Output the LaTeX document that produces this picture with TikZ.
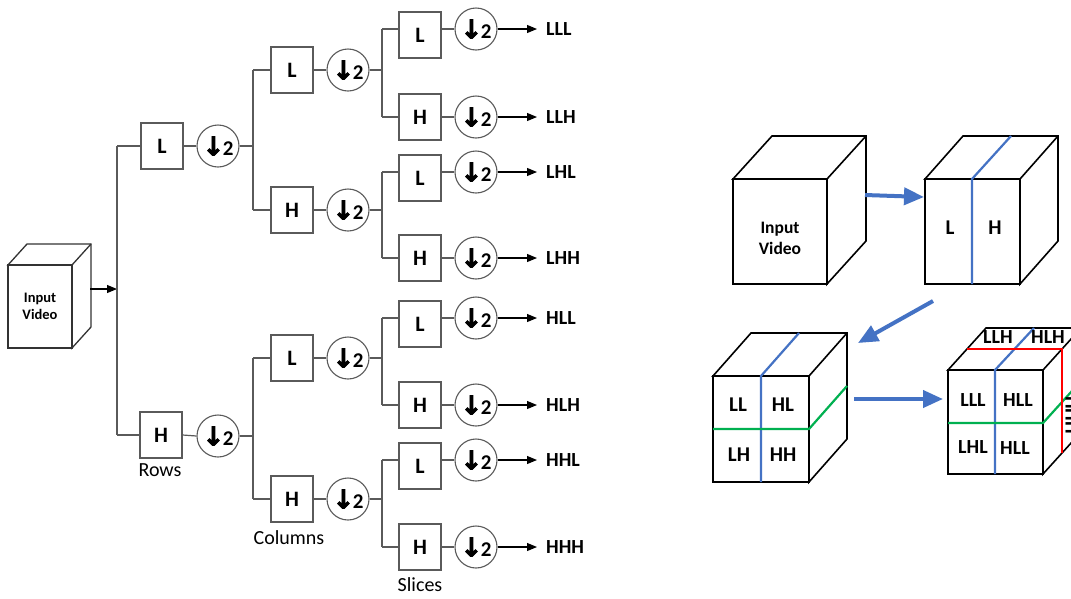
\documentclass[tikz,border=0pt]{standalone}
\usepackage{fontspec}
\setmainfont{Carlito}
\font\arrowfnt="DejaVu Sans/B:embolden=3" at 26pt
\usetikzlibrary{arrows.meta,calc}
\definecolor{treegray}{HTML}{5A5A5A}
\definecolor{myblue}{HTML}{4472C4}
\definecolor{mygreen}{HTML}{00B050}
\definecolor{myred}{HTML}{FF0000}
\newcommand\dnarrow{{\arrowfnt ↓}\kern-1.5pt}
\newcommand\drawmycube[6]{%
  \draw[cube,fill=white] (#1,#2) -- ++(#5,#6) -- ([shift={(#5,#6)}]#3,#2) -- ([shift={(#5,#6)}]#3,#4) -- (#3,#4) -- (#3,#2) -- cycle;
  \draw[cube] (#3,#2) -- ++(#5,#6);
  \draw[cube,fill=white] (#1,#2) rectangle (#3,#4);
}
\begin{document}
\begin{tikzpicture}[x=1pt,y=-1pt,
  box/.style={draw=treegray,line width=1.3pt,fill=white,minimum width=42pt,minimum height=46pt,inner sep=0pt,font=\bfseries\fontsize{22}{22}\selectfont},
  dcirc/.style={circle,draw=treegray,line width=1.1pt,fill=white,minimum size=42pt,inner sep=0pt,font=\bfseries\fontsize{21}{21}\selectfont},
  wire/.style={draw=treegray,line width=1.2pt},
  outarrow/.style={draw=black,line width=1.1pt,-{Triangle[length=10pt,width=8pt]}},
  outlabel/.style={anchor=west,inner sep=0pt,font=\bfseries\fontsize{20}{20}\selectfont},
  caption/.style={inner sep=0pt,font=\fontsize{20}{20}\selectfont},
  cube/.style={draw=black,line width=1.6pt,line join=miter},
  smallcube/.style={draw=black!80,line width=1.3pt,line join=miter},
  bluearrow/.style={draw=myblue,line width=4pt,-{Triangle[length=20pt,width=17pt]}},
  cubelabel/.style={inner sep=0pt,font=\bfseries\fontsize{21}{21}\selectfont},
  cubelabelb/.style={inner sep=0pt,font=\bfseries\fontsize{20}{20}\selectfont},
  slice/.style={line width=2.2pt}
]
\clip (0,0) rectangle (1071,598);
\fill[white] (0,0) rectangle (1071,598);

% ---------- left: input cube ----------
\draw[smallcube,fill=white] (8,265) -- ++(19,-21) -- (91,244) -- (91,327) -- (72,348) -- (72,265) -- cycle;
\draw[smallcube] (72,265) -- (91,244);
\node[smallcube,draw,fill=white,minimum width=64pt,minimum height=83pt,inner sep=0pt,
      align=center,font=\bfseries\fontsize{14.5}{17.5}\selectfont] (incube) at (40,306.5) {Input\\Video};
\coordinate (cubeout) at (90,289);
\coordinate (j0) at (117,289);
\draw[outarrow] (cubeout) -- (j0);

% ---------- level 1 ----------
\coordinate (v1t) at (117,146);
\coordinate (v1b) at (117,435);
\draw[wire] (v1t) -- (v1b);
\node[box] (L1) at (162,146) {L};
\node[dcirc] (C1) at (218,146) {\dnarrow2};
\node[box] (H1) at (161,435) {H};
\node[dcirc] (D1) at (218,436) {\dnarrow2};
\draw[wire] (v1t) -- (L1.west);
\draw[wire] (L1.east) -- (C1.west);
\draw[wire] (v1b) -- (H1.west);
\draw[wire] (H1.east) -- (D1.west);
\node[caption] (rows) at (160,470) {Rows};

% ---------- level 2 ----------
\coordinate (v2at) at (253,70);
\coordinate (v2ab) at (253,210);
\coordinate (j2a) at (253,146);
\coordinate (v2bt) at (253,358);
\coordinate (v2bb) at (253,499);
\coordinate (j2b) at (253,436);
\draw[wire] (v2at) -- (v2ab);
\draw[wire] (v2bt) -- (v2bb);
\draw[wire] (C1.east) -- (j2a);
\draw[wire] (D1.east) -- (j2b);

\foreach \n/\y/\l/\t in {a/70/L/v2at, b/210/H/v2ab, c/358/L/v2bt, d/499/H/v2bb}{
  \node[box] (B2\n) at (292,\y) {\l};
  \node[dcirc] (C2\n) at (348,\y) {\dnarrow2};
  \draw[wire] (\t) -- (B2\n.west);
  \draw[wire] (B2\n.east) -- (C2\n.west);
}
\node[caption] (cols) at (289,538) {Columns};

% ---------- level 3 ----------
\foreach \n/\y/\ya/\yb/\la/\lb in {a/70/29/117/LLL/LLH, b/210/172/258/LHL/LHH, c/358/318/405/HLL/HLH, d/499/460/547/HHL/HHH}{
  \coordinate (v3\n t) at (382,\ya);
  \coordinate (v3\n b) at (382,\yb);
  \coordinate (j3\n) at (382,\y);
  \draw[wire] (v3\n t) -- (v3\n b);
  \draw[wire] (C2\n.east) -- (j3\n);
  \node[box] (B3\n l) at (420,\ya+6) {L};
  \node[dcirc] (C3\n l) at (476,\ya) {\dnarrow2};
  \node[box] (B3\n h) at (420,\yb) {H};
  \node[dcirc] (C3\n h) at (476,\yb) {\dnarrow2};
  \draw[wire] (v3\n t) -- (B3\n l.west |- v3\n t);
  \draw[wire] (B3\n l.east |- C3\n l) -- (C3\n l.west);
  \draw[wire] (v3\n b) -- (B3\n h.west);
  \draw[wire] (B3\n h.east) -- (C3\n h.west);
  \coordinate (o3\n l) at (537,\ya);
  \coordinate (o3\n h) at (537,\yb);
  \draw[outarrow] (C3\n l.east) -- (o3\n l);
  \draw[outarrow] (C3\n h.east) -- (o3\n h);
  \node[outlabel] (t3\n l) at (546,\ya) {\la};
  \node[outlabel] (t3\n h) at (546,\yb) {\lb};
}
\node[caption] (slices) at (420,585) {Slices};

% ---------- right: cubes ----------
% cube 1
\drawmycube{733}{179}{827}{284}{39}{-43}
\node[cubelabel,align=center,font=\bfseries\fontsize{17.5}{21}\selectfont] (in2) at (780,238) {Input\\Video};
% cube 2
\drawmycube{925}{179}{1020}{284}{38}{-43}
\draw[myblue,slice] (972,284) -- (972,179) -- (1011,136);
\node[cubelabel] at (950,228) {L};
\node[cubelabel] at (995,228) {H};
% cube 3
\drawmycube{713}{376}{809}{482}{38}{-43}
\draw[myblue,slice] (761,482) -- (761,376) -- (799,333);
\draw[mygreen,slice] (713,429) -- (809,429) -- (847,386);
\node[cubelabel] at (738,405) {LL};
\node[cubelabel] at (783,405) {HL};
\node[cubelabel] at (739,455) {LH};
\node[cubelabel] at (783,455) {HH};
% cube 4
\drawmycube{948}{370}{1043}{474}{38}{-42}
\draw[myblue,slice] (995,474) -- (995,370) -- (1034,328);
\draw[mygreen,slice] (948,423) -- (1043,423) -- (1081,381);
\draw[myred,line width=1.8pt] (967,349) -- (1062,349) -- (1062,453);
\node[cubelabelb] at (973,400) {LLL};
\node[cubelabelb] at (1018,400) {HLL};
\node[cubelabelb] at (973,447) {LHL};
\node[cubelabelb] at (1015,448) {HLL};
\node[cubelabelb] at (998,337) {LLH};
\node[cubelabelb] at (1048,337) {HLH};
\node[cubelabelb,rotate=-90] at (1072,415) {HHH};

% blue arrows
\coordinate (ba1s) at (865,195);
\coordinate (ba1e) at (924,197);
\coordinate (ba2s) at (933,301);
\coordinate (ba2e) at (858,343);
\coordinate (ba3s) at (854,399);
\coordinate (ba3e) at (943,399);
\draw[bluearrow] (ba1s) -- (ba1e);
\draw[bluearrow] (ba2s) -- (ba2e);
\draw[bluearrow] (ba3s) -- (ba3e);
\end{tikzpicture}
\end{document}
